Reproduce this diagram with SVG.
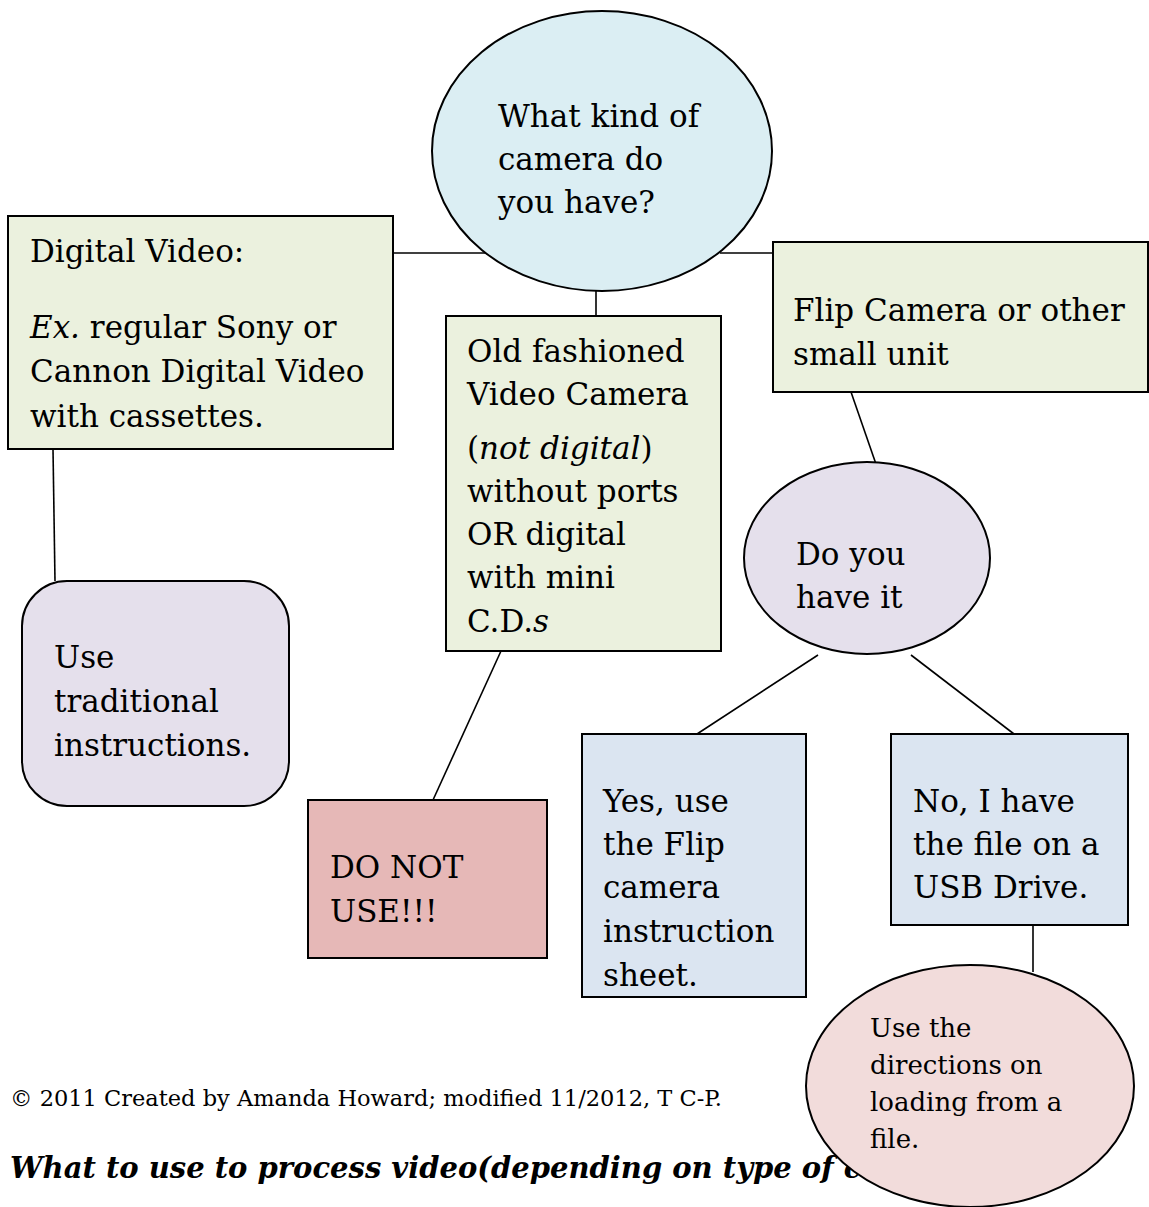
<svg xmlns="http://www.w3.org/2000/svg" width="1149" height="1207" viewBox="0 0 1149 1207">
<style>
.n{stroke:#000;stroke-width:2}
.c{stroke:#000;stroke-width:1.6;fill:none}
.t{font-family:"DejaVu Serif","Liberation Serif",serif;font-size:31px;fill:#000}
.t.s{font-size:26px}
.t.cp{font-size:22.5px}
.t.ti{font-size:29px;font-weight:bold;font-style:italic}
.g{fill:#ebf1de}.b{fill:#dbeef3}.p{fill:#e5e0ec}.r{fill:#e6b8b7}.l{fill:#dbe5f1}.k{fill:#f2dcdb}
</style>
<rect width="1149" height="1207" fill="#fff"/>
<g id="connectors">
<line class="c" x1="393" y1="253" x2="490" y2="253"/>
<line class="c" x1="720" y1="253" x2="773" y2="253"/>
<line class="c" x1="596" y1="290" x2="596" y2="316"/>
<line class="c" x1="53" y1="449" x2="55" y2="581"/>
<line class="c" x1="501" y1="651" x2="433" y2="800"/>
<line class="c" x1="851" y1="392" x2="877" y2="467"/>
<line class="c" x1="818" y1="655" x2="697" y2="734"/>
<line class="c" x1="911" y1="655" x2="1014" y2="734"/>
<line class="c" x1="1033" y1="925" x2="1033" y2="972"/>
</g>
<g id="start">
<ellipse class="n b" cx="602" cy="151" rx="170" ry="140"/>
<text class="t" x="498" y="127">What kind of</text>
<text class="t" x="498" y="170">camera do</text>
<text class="t" x="498" y="213">you have?</text>
</g>
<g id="digital">
<rect class="n g" x="8" y="216" width="385" height="233"/>
<text class="t" x="30" y="262">Digital Video:</text>
<text class="t" x="30" y="338"><tspan font-style="italic">Ex.</tspan> regular Sony or</text>
<text class="t" x="30" y="382">Cannon Digital Video</text>
<text class="t" x="30" y="427">with cassettes.</text>
</g>
<g id="oldfashioned">
<rect class="n g" x="446" y="316" width="275" height="335"/>
<text class="t" x="467" y="362">Old fashioned</text>
<text class="t" x="467" y="405">Video Camera</text>
<text class="t" x="467" y="459">(<tspan font-style="italic">not digital</tspan>)</text>
<text class="t" x="467" y="502">without ports</text>
<text class="t" x="467" y="545">OR digital</text>
<text class="t" x="467" y="588">with mini</text>
<text class="t" x="467" y="632">C.D.<tspan font-style="italic">s</tspan></text>
</g>
<g id="flip">
<rect class="n g" x="773" y="242" width="375" height="150"/>
<text class="t" x="793" y="321">Flip Camera or other</text>
<text class="t" x="793" y="365">small unit</text>
</g>
<g id="traditional">
<rect class="n p" x="22" y="581" width="267" height="225" rx="45" ry="45"/>
<text class="t" x="54" y="668">Use</text>
<text class="t" x="54" y="712">traditional</text>
<text class="t" x="54" y="756">instructions.</text>
</g>
<g id="donotuse">
<rect class="n r" x="308" y="800" width="239" height="158"/>
<text class="t" x="330" y="878">DO NOT</text>
<text class="t" x="330" y="922">USE!!!</text>
</g>
<g id="haveit">
<ellipse class="n p" cx="867" cy="558" rx="123" ry="96"/>
<text class="t" x="796" y="565">Do you</text>
<text class="t" x="796" y="608">have it</text>
</g>
<g id="yes">
<rect class="n l" x="582" y="734" width="224" height="263"/>
<text class="t" x="603" y="812">Yes, use</text>
<text class="t" x="603" y="855">the Flip</text>
<text class="t" x="603" y="898">camera</text>
<text class="t" x="603" y="942">instruction</text>
<text class="t" x="603" y="986">sheet.</text>
</g>
<g id="no">
<rect class="n l" x="891" y="734" width="237" height="191"/>
<text class="t" x="913" y="812">No, I have</text>
<text class="t" x="913" y="855">the file on a</text>
<text class="t" x="913" y="898">USB Drive.</text>
</g>
<g id="footer">
<text class="t cp" x="10" y="1106">© 2011 Created by Amanda Howard; modified 11/2012, T C-P.</text>
<text class="t ti" x="10" y="1178">What to use to process video(depending on type of c</text>
</g>
<g id="loadfile">
<ellipse class="n k" cx="970" cy="1086" rx="164" ry="121"/>
<text class="t s" x="870" y="1037">Use the</text>
<text class="t s" x="870" y="1074">directions on</text>
<text class="t s" x="870" y="1111">loading from a</text>
<text class="t s" x="870" y="1148">file.</text>
</g>
</svg>
